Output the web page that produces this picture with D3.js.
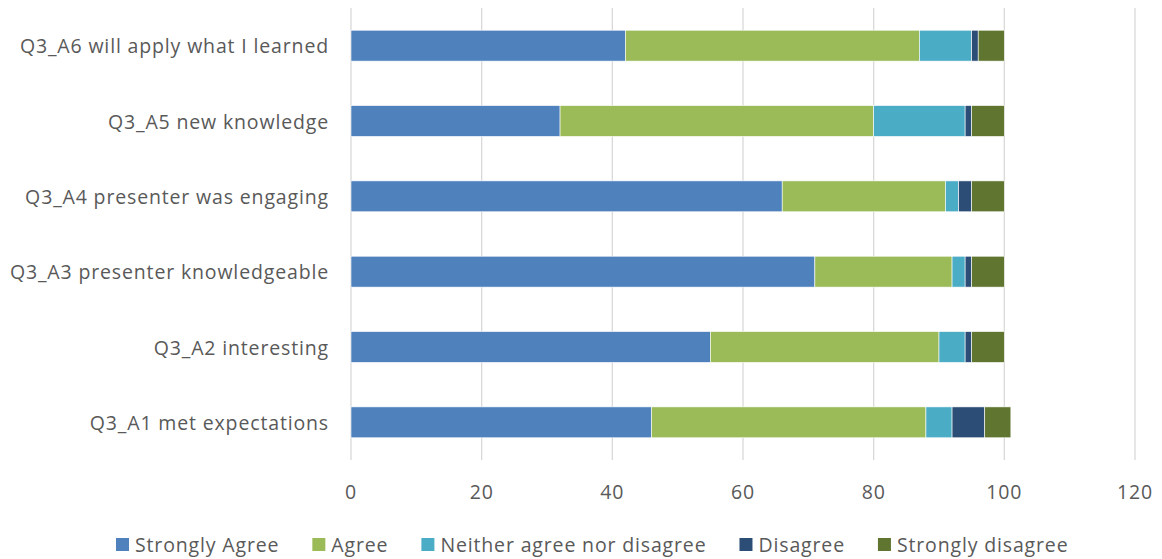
<!DOCTYPE html>
<html><head><meta charset="utf-8">
<script src="https://cdn.jsdelivr.net/npm/d3@7/dist/d3.min.js"></script>
<style>body{margin:0;background:#fff;} text{font-family:"Open Sans",sans-serif;fill:#595959;font-size:19.5px;letter-spacing:0.85px;}</style>
</head><body><svg id="c" width="1162" height="559"></svg>
<script>
const categories = ["Q3_A6 will apply what I learned","Q3_A5 new knowledge","Q3_A4 presenter was engaging","Q3_A3 presenter knowledgeable","Q3_A2 interesting","Q3_A1 met expectations"];
const seriesNames = ["Strongly Agree","Agree","Neither agree nor disagree","Disagree","Strongly disagree"];
const stronglyAgree = [42,32,66,71,55,46];
const agree = [45,48,25,21,35,42];
const neither = [8,14,2,2,4,4];
const disagree = [1,1,2,1,1,5];
const stronglyDisagree = [4,5,5,5,5,4];
const xTicks = [0,20,40,60,80,100,120];
const colors = ["#4f81bd","#9bbb59","#4bacc6","#2c4d75","#5f7530"];

(function(){
const svg = d3.select("#c");
const pLeft = 351, pRight = 1135, pTop = 8, pBottom = 460;
const x = d3.scaleLinear().domain([0,120]).range([pLeft,pRight]);
const y = d3.scaleBand().domain(categories).range([pTop,pBottom]).paddingInner(0.59).paddingOuter(0.295);

const stackData = categories.map((c,i)=>{
  const vals=[stronglyAgree[i],agree[i],neither[i],disagree[i],stronglyDisagree[i]];
  const o={cat:c}; seriesNames.forEach((s,j)=>o[s]=vals[j]); return o;});
const stacked = d3.stack().keys(seriesNames)(stackData);

svg.append("g").selectAll("line").data(xTicks).join("line")
  .attr("x1",d=>x(d)).attr("x2",d=>x(d)).attr("y1",pTop).attr("y2",pBottom)
  .attr("stroke","#d9d9d9").attr("stroke-width",1.3);

svg.append("g").selectAll("g").data(stacked).join("g")
  .attr("fill",(d,i)=>colors[i])
  .selectAll("rect").data(d=>d).join("rect")
  .attr("x",d=>x(d[0])).attr("width",d=>x(d[1])-x(d[0]))
  .attr("y",d=>y(d.data.cat)).attr("height",y.bandwidth())
  .attr("stroke","#fff").attr("stroke-width",0.6);

svg.append("g").selectAll("text").data(xTicks).join("text")
  .attr("x",d=>x(d)).attr("y",499).attr("text-anchor","middle")
  .text(d=>d);

svg.append("g").selectAll("text").data(categories).join("text")
  .attr("x",329).attr("y",d=>y(d)+y.bandwidth()/2+7.5)
  .attr("text-anchor","end").text(d=>d);

const lg = svg.append("g");
let lx = 116;
seriesNames.forEach((s,i)=>{
  lg.append("rect").attr("x",lx).attr("y",538).attr("width",13).attr("height",13).attr("fill",colors[i]);
  const t = lg.append("text").attr("x",lx+19).attr("y",552).text(s);
  const w = t.node().getComputedTextLength();
  lx += 19 + w + 33;
});
})();
</script></body></html>
